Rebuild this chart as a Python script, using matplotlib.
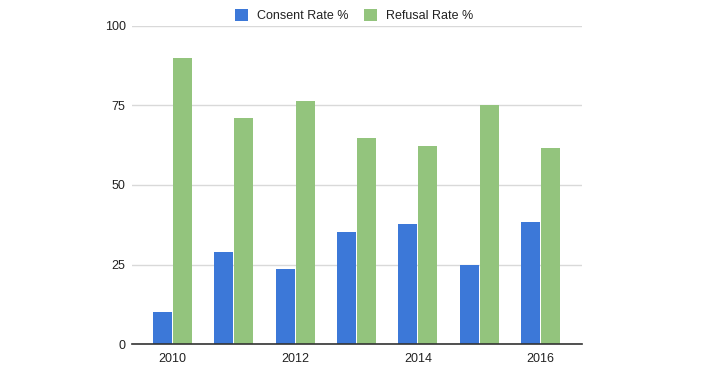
import numpy as np
import matplotlib.pyplot as plt

# data
years = [2010, 2011, 2012, 2013, 2014, 2015, 2016]
consent_rate = [10, 28.8, 23.7, 35.1, 37.6, 25.0, 38.5]
refusal_rate = [90, 71.0, 76.3, 64.9, 62.4, 75.0, 61.5]
y_ticks = [0, 25, 50, 75, 100]

blue = "#3c78d8"
green = "#93c47d"

plt.rcParams['font.family'] = ['Liberation Sans', 'DejaVu Sans']

fig = plt.figure(figsize=(7.09, 3.87), dpi=100)
ax = fig.add_axes([0.186, 0.111, 0.635, 0.822])

x = np.arange(len(years))
w = 0.31
ax.bar(x - w / 2 - 0.008, consent_rate, width=w, color=blue, label="Consent Rate %", zorder=3)
ax.bar(x + w / 2 + 0.008, refusal_rate, width=w, color=green, label="Refusal Rate %", zorder=3)

ax.set_xlim(-0.665, 6.68)
ax.set_ylim(0, 100)
ax.set_yticks(y_ticks)
ax.set_yticklabels([str(t) for t in y_ticks])
ax.set_xticks(x[::2])
ax.set_xticklabels([str(y) for y in years[::2]])

ax.grid(axis='y', color='#d9d9d9', linewidth=1, zorder=0)
for s in ['top', 'right', 'left']:
    ax.spines[s].set_visible(False)
ax.spines['bottom'].set_color('#333333')
ax.spines['bottom'].set_linewidth(1.2)
ax.spines['bottom'].set_zorder(4)
ax.tick_params(axis='both', length=0, labelsize=9, colors='#222222')
ax.tick_params(axis='y', pad=4.5)
ax.tick_params(axis='x', pad=6.5)

fig.legend(loc='center', bbox_to_anchor=(0.4993, 0.959), ncol=2, frameon=False,
           fontsize=9, handlelength=1.0, handleheight=1.0, handletextpad=0.7,
           columnspacing=1.3, labelcolor='#222222')

fig.savefig("out.png", dpi=100)
